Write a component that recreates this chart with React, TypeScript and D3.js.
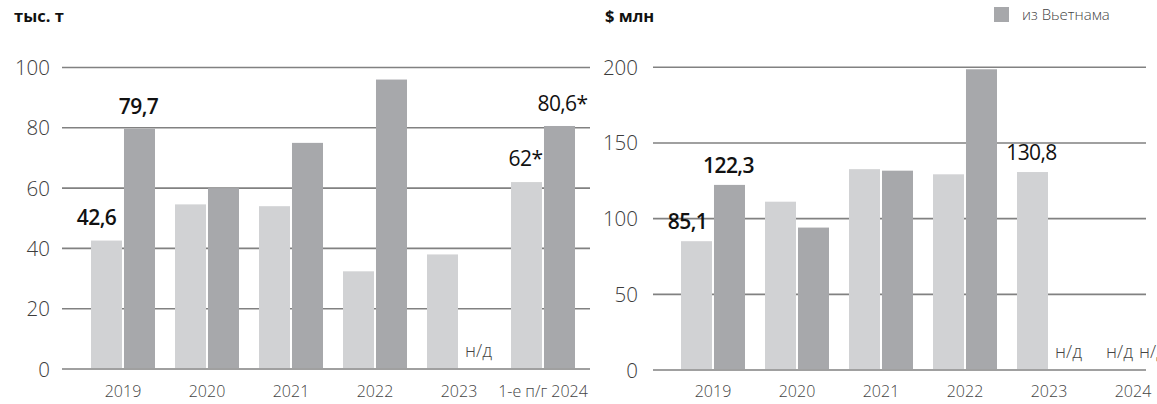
import React from 'react';
import * as d3 from 'd3';

// data
const years = ['2019', '2020', '2021', '2022', '2023', '2024'];
const volumeXLabels = ['2019', '2020', '2021', '2022', '2023', '1-е п/г 2024'];
const volumeOther: (number | null)[] = [42.6, 54.6, 54.0, 32.4, 38.0, 62];
const volumeVietnam: (number | null)[] = [79.7, 60.0, 75.0, 96.0, null, 80.6];
const volumeTicks = [0, 20, 40, 60, 80, 100];

const valueXLabels = ['2019', '2020', '2021', '2022', '2023', '2024'];
const valueOther: (number | null)[] = [85.1, 111.2, 132.7, 129.3, 130.8, null];
const valueVietnam: (number | null)[] = [122.3, 94.1, 131.7, 198.7, null, null];
const valueTicks = [0, 50, 100, 150, 200];

const volumeLabels = [
  { s: 'a', i: 0, text: '42,6', bold: true, dx: -10 },
  { s: 'b', i: 0, text: '79,7', bold: true, dx: -1 },
  { s: 'a', i: 5, text: '62*', bold: false, dx: -1 },
  { s: 'b', i: 5, text: '80,6*', bold: false, dx: 3 },
];
const valueLabels = [
  { s: 'a', i: 0, text: '85,1', bold: true, dx: -9 },
  { s: 'b', i: 0, text: '122,3', bold: true, dx: -1 },
  { s: 'a', i: 4, text: '130,8', bold: false, dx: -1 },
];

const LIGHT = '#d1d2d4';
const DARK = '#a7a8ab';
const GRID = '#818181';
const FONT = '"Open Sans", "Noto Sans", sans-serif';

interface PanelProps {
  xLabels: string[];
  a: (number | null)[];
  b: (number | null)[];
  ticks: number[];
  max: number;
  labels: { s: string; i: number; text: string; bold: boolean; dx: number }[];
  gridX: [number, number];
  bandRange: [number, number];
  yRange: [number, number];
  tickX: number;
  title: string;
  titleX: number;
  labelGap: { a: number; b: number };
}

const Panel: React.FC<PanelProps> = ({
  xLabels, a, b, ticks, max, labels, gridX, bandRange, yRange, tickX, title, titleX, labelGap,
}) => {
  const x = d3.scaleBand<string>().domain(years).range(bandRange).paddingInner(0.238).paddingOuter(0.119);
  const sub = d3.scaleBand<string>().domain(['a', 'b']).range([0, x.bandwidth()]).paddingInner(0.06);
  const y = d3.scaleLinear().domain([0, max]).range(yRange);
  const series: Record<string, (number | null)[]> = { a, b };

  return (
    <g>
      <text x={titleX} y={22} fontFamily={FONT} fontSize={16.5} fontWeight={700} fill="#111">{title}</text>
      {ticks.map((t) => (
        <g key={t}>
          <line x1={gridX[0]} x2={gridX[1]} y1={y(t)} y2={y(t)} stroke={GRID} strokeWidth={1.6} />
          <text x={tickX} y={y(t) + 7.5} textAnchor="end" fontFamily={FONT} fontSize={20.5} fontWeight={300} fill="#3c3c3c">{t}</text>
        </g>
      ))}
      {years.map((yr, i) => (
        <g key={yr} transform={`translate(${x(yr)},0)`}>
          {(['a', 'b'] as const).map((k) => {
            const v = series[k][i];
            const sx = sub(k)!;
            if (v == null) {
              return (
                <text key={k} x={sx + sub.bandwidth() / 2 + 3} y={y(0) - 12} textAnchor="middle"
                  fontFamily={FONT} fontSize={18} fontWeight={300} fill="#444">н/д</text>
              );
            }
            return (
              <rect key={k} x={sx} width={sub.bandwidth()} y={y(v)} height={y(0) - y(v) - 1}
                fill={k === 'a' ? LIGHT : DARK} />
            );
          })}
          <text x={x.bandwidth() / 2} y={397} textAnchor="middle" fontFamily={FONT} fontSize={16}
            fontWeight={300} fill="#444">{xLabels[i]}</text>
        </g>
      ))}
      {labels.map((l) => {
        const v = series[l.s][l.i]!;
        const cx = x(years[l.i])! + sub(l.s)! + sub.bandwidth() / 2 + l.dx;
        return (
          <text key={l.text} x={cx} y={y(v) - labelGap[l.s as 'a' | 'b']} textAnchor="middle"
            fontFamily={FONT} fontSize={21} fontWeight={l.bold ? 600 : 400} fill="#111"
            letterSpacing={-0.6}>{l.text}</text>
        );
      })}
    </g>
  );
};

export default function App() {
  return (
    <svg width={1157} height={404} style={{ position: 'absolute', left: 0, top: 0, background: '#fff' }}>
      <Panel
        xLabels={volumeXLabels}
        a={volumeOther}
        b={volumeVietnam}
        ticks={volumeTicks}
        max={100}
        labels={volumeLabels}
        gridX={[62, 590]}
        bandRange={[81, 585]}
        yRange={[369, 67.5]}
        tickX={50}
        title="тыс. т"
        titleX={14}
        labelGap={{ a: 16, b: 15 }}
      />
      <Panel
        xLabels={valueXLabels}
        a={valueOther}
        b={valueVietnam}
        ticks={valueTicks}
        max={200}
        labels={valueLabels}
        gridX={[653, 1146]}
        bandRange={[671, 1175]}
        yRange={[370, 67.3]}
        tickX={638}
        title="$ млн"
        titleX={605}
        labelGap={{ a: 12, b: 12 }}
      />
      <rect x={994} y={7} width={15} height={15} fill={DARK} />
      <text x={1022} y={20} fontFamily={FONT} fontSize={15} fontWeight={300} fill="#444">из Вьетнама</text>
    </svg>
  );
}
